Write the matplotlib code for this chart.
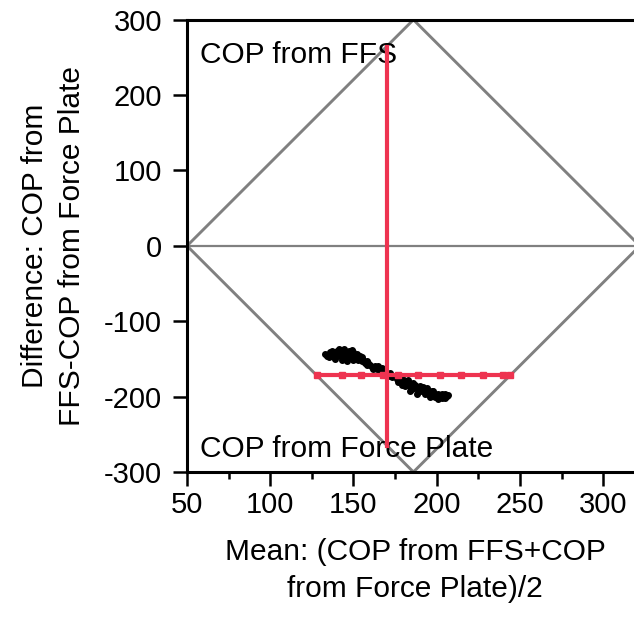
import matplotlib.pyplot as plt

plt.rcParams['font.family'] = ['Liberation Sans', 'DejaVu Sans']
plt.rcParams['axes.unicode_minus'] = False

# Bland-Altman style limits (diamond of agreement region)
diamond_x = [50, 186, 322, 186, 50]
diamond_y = [0, 300, 0, -300, 0]

# Red cross: mean bias (horizontal) and mean of means (vertical)
bias_y = -171
bias_x = [128, 142.8, 154.8, 167.6, 176.5, 188.8, 201.8, 214.8, 227.8, 239.8, 244]
vert_x = 170
vert_y = [-266, 264]

# COP samples (mean, difference)
mean_vals = [133, 134, 136, 137, 138, 139, 140, 141, 142, 143, 144, 145, 146, 147,
             148, 149, 150, 151, 148, 145, 143, 146, 150, 153, 152, 154,
             135, 137, 139, 141, 144, 147, 149, 151, 153, 155, 156,
             155, 157, 158, 160, 161, 163, 164, 166, 167, 168, 170, 172,
             158, 159, 162, 165, 169, 171,
             173, 175, 176, 178, 179, 180, 182, 183, 184, 186, 187, 188, 190,
             191, 192, 194, 195, 196, 197, 198, 199, 200, 201, 202, 203, 204,
             205, 206, 185, 189, 193, 181,
             177, 179, 183, 186, 190, 192, 195, 197, 199, 201, 203, 205, 207,
             184, 188, 196, 194]
diff_vals = [-143, -146, -141, -145, -148, -143, -139, -142, -146, -140, -137, -141, -144, -139,
             -142, -138, -141, -145, -149, -150, -152, -153, -152, -149, -143, -146,
             -148, -140, -150, -137, -147, -146, -146, -149, -152, -148, -151,
             -153, -156, -153, -158, -161, -159, -163, -165, -162, -167, -170, -169,
             -158, -155, -163, -160, -165, -173,
             -174, -172, -176, -178, -175, -181, -179, -183, -186, -182, -185, -188, -186,
             -190, -193, -189, -192, -195, -198, -193, -196, -200, -197, -200, -202, -198,
             -196, -199, -190, -194, -197, -186,
             -181, -184, -178, -188, -192, -187, -197, -192, -201, -203, -196, -202, -198,
             -192, -196, -200, -194]

fig = plt.figure(figsize=(6.34, 6.17), dpi=100)
ax = fig.add_axes([0.295, 0.235, 0.705, 0.733])

ax.plot(diamond_x, diamond_y, color='#808080', lw=2.1, zorder=1)
ax.axhline(0, color='#808080', lw=1.6, zorder=1)

ax.plot(mean_vals, diff_vals, 'o', color='black', ms=4, zorder=3)

ax.plot([vert_x, vert_x], vert_y, color='#ee3350', lw=3, zorder=4)
ax.plot(bias_x, [bias_y] * len(bias_x), color='#ee3350', lw=3,
        marker='s', ms=4.5, zorder=4)

ax.text(57.5, 253, 'COP from FFS', fontsize=21.5, va='center', ha='left')
ax.text(57.5, -270, 'COP from Force Plate', fontsize=21.5, va='center', ha='left')

ax.set_xlim(50, 318.5)
ax.set_ylim(-300, 300)
ax.set_xticks([50, 100, 150, 200, 250, 300])
ax.set_xticks([75, 125, 175, 225, 275], minor=True)
ax.set_yticks([-300, -200, -100, 0, 100, 200, 300])

for s in ['left', 'bottom', 'top']:
    ax.spines[s].set_linewidth(2.2)
ax.spines['right'].set_visible(False)

ax.tick_params(axis='both', which='major', direction='out', length=10,
               width=1.8, labelsize=21)
ax.tick_params(axis='y', which='major', pad=8)
ax.tick_params(axis='x', which='major', pad=4)
ax.tick_params(axis='x', which='minor', direction='out', length=5, width=1.8)

ax.set_xlabel('Mean: (COP from FFS+COP\nfrom Force Plate)/2', fontsize=21.5,
              linespacing=1.45)
ax.xaxis.set_label_coords(0.51, -0.145, transform=ax.transAxes)
ax.xaxis.label.set_va('top')
ax.set_ylabel('Difference: COP from\nFFS-COP from Force Plate', fontsize=21.5,
              linespacing=1.45)
ax.yaxis.set_label_coords(-0.225, 0.5, transform=ax.transAxes)

fig.savefig('out.png', dpi=100)
